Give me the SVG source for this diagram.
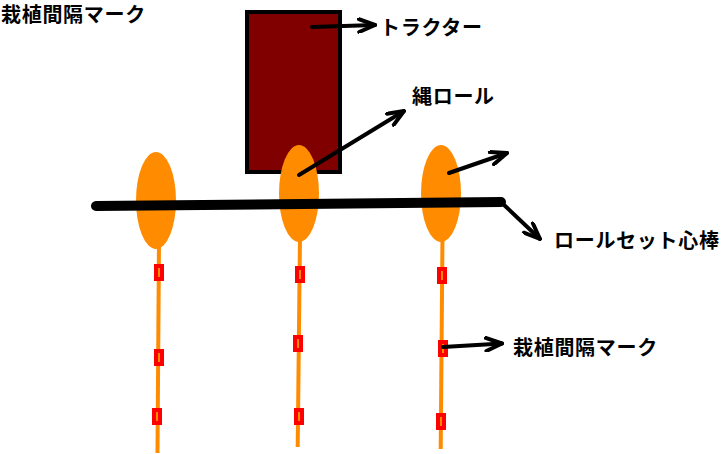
<svg xmlns="http://www.w3.org/2000/svg" width="722" height="454" viewBox="0 0 722 454">
<style>
.lbl{font-family:"Noto Sans CJK JP","Liberation Sans",sans-serif;font-weight:bold;font-size:20px;letter-spacing:0.7px;fill:#000}
.rope{stroke:#FF8C00;stroke-width:4;fill:none}
.roll{fill:#FF8C00}
.mark{fill:#FF0000}
.markin{stroke:#FF8C00;stroke-width:2}
.arr{stroke:#000;stroke-width:4;fill:none;stroke-linecap:round;marker-end:url(#ah)}
</style>
<defs>
<marker id="ah" viewBox="0 0 20 16" refX="18" refY="8" markerWidth="20" markerHeight="16" markerUnits="userSpaceOnUse" orient="auto">
<path d="M2,1.5 L18,8 L2,14.5" fill="none" stroke="#000" stroke-width="4" stroke-linecap="round" stroke-linejoin="round"/>
</marker>
</defs>
<rect width="722" height="454" fill="#fff"/>
<g id="tractor">
<rect x="247" y="12" width="93" height="160" fill="#800000" stroke="#000" stroke-width="4"/>
</g>
<g id="rope1">
<line class="rope" x1="159" y1="240" x2="157.5" y2="453"/>
<rect class="mark" x="154" y="264" width="10" height="17"/><line class="markin" x1="159" y1="268" x2="159" y2="277"/>
<rect class="mark" x="154" y="349" width="10" height="17"/><line class="markin" x1="159" y1="353" x2="159" y2="362"/>
<rect class="mark" x="152" y="408" width="10" height="17"/><line class="markin" x1="157" y1="412" x2="157" y2="421"/>
</g>
<g id="rope2">
<line class="rope" x1="300" y1="235" x2="297.7" y2="447"/>
<rect class="mark" x="295" y="266" width="10" height="17"/><line class="markin" x1="300" y1="270" x2="300" y2="279"/>
<rect class="mark" x="293" y="335" width="10" height="17"/><line class="markin" x1="298" y1="339" x2="298" y2="348"/>
<rect class="mark" x="294" y="408" width="10" height="17"/><line class="markin" x1="299" y1="412" x2="299" y2="421"/>
</g>
<g id="rope3">
<line class="rope" x1="442.5" y1="235" x2="440.7" y2="449"/>
<rect class="mark" x="437" y="267" width="10" height="17"/><line class="markin" x1="442" y1="271" x2="442" y2="280"/>
<rect class="mark" x="438" y="340" width="10" height="17"/><line class="markin" x1="443" y1="344" x2="443" y2="353"/>
<rect class="mark" x="436" y="413" width="10" height="17"/><line class="markin" x1="441" y1="417" x2="441" y2="426"/>
</g>
<g id="roll1"><ellipse class="roll" cx="156" cy="200.5" rx="20" ry="48.5"/></g>
<g id="roll2"><ellipse class="roll" cx="299" cy="193.5" rx="20" ry="48.5"/></g>
<g id="roll3"><ellipse class="roll" cx="441" cy="193.5" rx="20" ry="48.5"/></g>
<g id="shaft">
<line x1="96" y1="206" x2="501" y2="202" stroke="#000" stroke-width="10" stroke-linecap="round"/>
</g>
<g id="connectors">
<line class="arr" x1="312" y1="27" x2="375" y2="25"/>
<line class="arr" x1="299" y1="175" x2="404" y2="111"/>
<line class="arr" x1="449" y1="173" x2="507" y2="153"/>
<line class="arr" x1="503" y1="204" x2="540" y2="239"/>
<line class="arr" x1="443" y1="347" x2="502" y2="343.5"/>
</g>
<g id="labels">
<text class="lbl" x="1" y="22">栽植間隔マーク</text>
<text class="lbl" x="380" y="35">トラクター</text>
<text class="lbl" x="412" y="104">縄ロール</text>
<text class="lbl" x="554" y="248">ロールセット心棒</text>
<text class="lbl" x="513" y="355">栽植間隔マーク</text>
</g>
</svg>
